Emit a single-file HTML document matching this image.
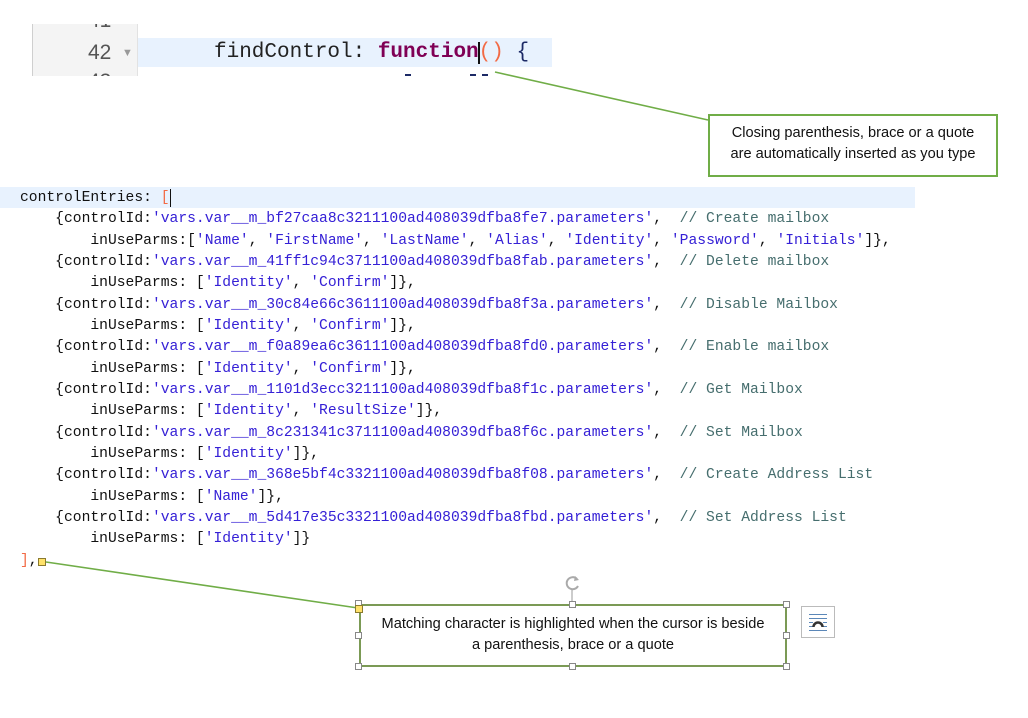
<!DOCTYPE html>
<html><head><meta charset="utf-8">
<style>
html,body{margin:0;padding:0;background:#fff;}
body{width:1028px;height:718px;position:relative;overflow:hidden;font-family:"Liberation Sans",sans-serif;}
.abs{position:absolute;}
.code{position:absolute;left:20px;top:188px;font-family:"Liberation Mono",monospace;font-size:14.667px;line-height:21.33px;color:#111;}
.code div{height:21.33px;white-space:pre;}
.s{color:#3520d6;}
.c{color:#466e6e;}
.o{color:#f26a45;}
.top{position:absolute;left:0;top:24px;width:600px;height:52px;overflow:hidden;}
.tl{position:absolute;font-family:"Liberation Mono",monospace;font-size:21px;white-space:pre;color:#222;line-height:30px;}
.num{position:absolute;font-family:"Liberation Sans",sans-serif;font-size:21px;color:#555;line-height:30px;}
.callout{position:absolute;box-sizing:border-box;text-align:center;font-size:14.6px;color:#111;line-height:20.5px;white-space:nowrap;}
.h{position:absolute;width:7px;height:7px;background:#fff;border:1px solid #888;box-sizing:border-box;}
</style></head>
<body>

<!-- top editor snippet -->
<div class="top">
  <div class="abs" style="left:32px;top:0;width:106px;height:52px;background:#f4f4f4;border-left:1px solid #cfcfcf;border-right:1px solid #e2e2e2;box-sizing:border-box;"></div>
  <div class="abs" style="left:138px;top:14px;width:414px;height:29px;background:#e8f2fe;"></div>
  <div class="num" style="left:88px;top:-18px;">41</div>
  <div class="num" style="left:88px;top:14px;">42</div>
  <div class="abs" style="left:122px;top:23px;font-size:11px;color:#999;line-height:12px;">&#9660;</div>
  <div class="num" style="left:88px;top:43px;">43</div>
  <div class="tl" style="left:214px;top:14px;">findControl: <b style="color:#7f0055;">function</b><span style="color:#f26a45;">()</span> <span style="color:#1c2a66;">{</span></div>
  <div class="abs" style="left:478px;top:18px;width:2px;height:22px;background:#111;"></div>
  <div class="abs" style="left:405px;top:50px;width:6px;height:2px;background:#1c2a66;"></div>
  <div class="abs" style="left:470px;top:50px;width:6px;height:2px;background:#1c2a66;"></div>
  <div class="abs" style="left:482px;top:50px;width:6px;height:2px;background:#1c2a66;"></div>
</div>

<!-- highlighted code line band -->
<div class="abs" style="left:0;top:187px;width:915px;height:21px;background:#e8f2fe;"></div>

<div class="code"><div>controlEntries: <span class="o">[</span></div><div>    {controlId:<span class="s">'vars.var__m_bf27caa8c3211100ad408039dfba8fe7.parameters'</span>,  <span class="c">// Create mailbox</span></div><div>        inUseParms:[<span class="s">'Name'</span>, <span class="s">'FirstName'</span>, <span class="s">'LastName'</span>, <span class="s">'Alias'</span>, <span class="s">'Identity'</span>, <span class="s">'Password'</span>, <span class="s">'Initials'</span>]},</div><div>    {controlId:<span class="s">'vars.var__m_41ff1c94c3711100ad408039dfba8fab.parameters'</span>,  <span class="c">// Delete mailbox</span></div><div>        inUseParms: [<span class="s">'Identity'</span>, <span class="s">'Confirm'</span>]},</div><div>    {controlId:<span class="s">'vars.var__m_30c84e66c3611100ad408039dfba8f3a.parameters'</span>,  <span class="c">// Disable Mailbox</span></div><div>        inUseParms: [<span class="s">'Identity'</span>, <span class="s">'Confirm'</span>]},</div><div>    {controlId:<span class="s">'vars.var__m_f0a89ea6c3611100ad408039dfba8fd0.parameters'</span>,  <span class="c">// Enable mailbox</span></div><div>        inUseParms: [<span class="s">'Identity'</span>, <span class="s">'Confirm'</span>]},</div><div>    {controlId:<span class="s">'vars.var__m_1101d3ecc3211100ad408039dfba8f1c.parameters'</span>,  <span class="c">// Get Mailbox</span></div><div>        inUseParms: [<span class="s">'Identity'</span>, <span class="s">'ResultSize'</span>]},</div><div>    {controlId:<span class="s">'vars.var__m_8c231341c3711100ad408039dfba8f6c.parameters'</span>,  <span class="c">// Set Mailbox</span></div><div>        inUseParms: [<span class="s">'Identity'</span>]},</div><div>    {controlId:<span class="s">'vars.var__m_368e5bf4c3321100ad408039dfba8f08.parameters'</span>,  <span class="c">// Create Address List</span></div><div>        inUseParms: [<span class="s">'Name'</span>]},</div><div>    {controlId:<span class="s">'vars.var__m_5d417e35c3321100ad408039dfba8fbd.parameters'</span>,  <span class="c">// Set Address List</span></div><div>        inUseParms: [<span class="s">'Identity'</span>]}</div><div><span class="o">]</span>,</div></div>
<!-- cursor after [ -->
<div class="abs" style="left:170px;top:189px;width:1px;height:18px;background:#111;"></div>

<!-- connector lines -->
<svg class="abs" style="left:0;top:0;" width="1028" height="718">
  <line x1="495" y1="72" x2="708" y2="120" stroke="#70ad47" stroke-width="1.6"/>
  <line x1="46" y1="562" x2="358" y2="608" stroke="#70ad47" stroke-width="1.6"/>
  <line x1="572" y1="590" x2="572" y2="601" stroke="#999" stroke-width="1"/>
  <path d="M577 579 A6 6 0 1 0 578 586" fill="none" stroke="#aaa" stroke-width="2"/>
  <path d="M575 576 L579 580 L574 581 Z" fill="#aaa"/>
</svg>

<!-- callout 1 -->
<div class="callout" style="left:708px;top:114px;width:290px;height:63px;border:2px solid #70ad47;padding-top:7px;">Closing parenthesis, brace or a quote<br>are automatically inserted as you type</div>

<!-- callout 2 -->
<div class="callout" style="left:359px;top:604px;width:428px;height:63px;border:2px solid #7b9a55;padding-top:8px;background:#fff;">Matching character is highlighted when the cursor is beside<br>a parenthesis, brace or a quote</div>

<!-- selection handles -->
<div class="h" style="left:355px;top:600px;"></div>
<div class="h" style="left:569px;top:601px;"></div>
<div class="h" style="left:783px;top:601px;"></div>
<div class="h" style="left:355px;top:632px;"></div>
<div class="h" style="left:783px;top:632px;"></div>
<div class="h" style="left:355px;top:663px;"></div>
<div class="h" style="left:569px;top:663px;"></div>
<div class="h" style="left:783px;top:663px;"></div>
<div class="h" style="left:355px;top:605px;width:8px;height:8px;background:#ffe26a;border-color:#8a7a30;"></div>
<div class="h" style="left:38px;top:558px;width:8px;height:8px;background:#ffe26a;border-color:#8a7a30;"></div>

<!-- layout options icon -->
<div class="abs" style="left:801px;top:606px;width:34px;height:32px;border:1px solid #bbb;box-sizing:border-box;background:#fff;"></div>
<svg class="abs" style="left:801px;top:606px;" width="34" height="32">
  <g stroke="#5b87b8" stroke-width="1">
    <line x1="8" y1="8.5" x2="26" y2="8.5"/>
    <line x1="8" y1="12.5" x2="26" y2="12.5"/>
    <line x1="8" y1="16.5" x2="12" y2="16.5"/>
    <line x1="22" y1="16.5" x2="26" y2="16.5"/>
    <line x1="8" y1="20.5" x2="12" y2="20.5"/>
    <line x1="22" y1="20.5" x2="26" y2="20.5"/>
    <line x1="8" y1="24.5" x2="26" y2="24.5"/>
  </g>
  <path d="M12.5 21 A4.5 4.5 0 0 1 21.5 21" fill="none" stroke="#333" stroke-width="2.5"/>
</svg>

</body></html>
